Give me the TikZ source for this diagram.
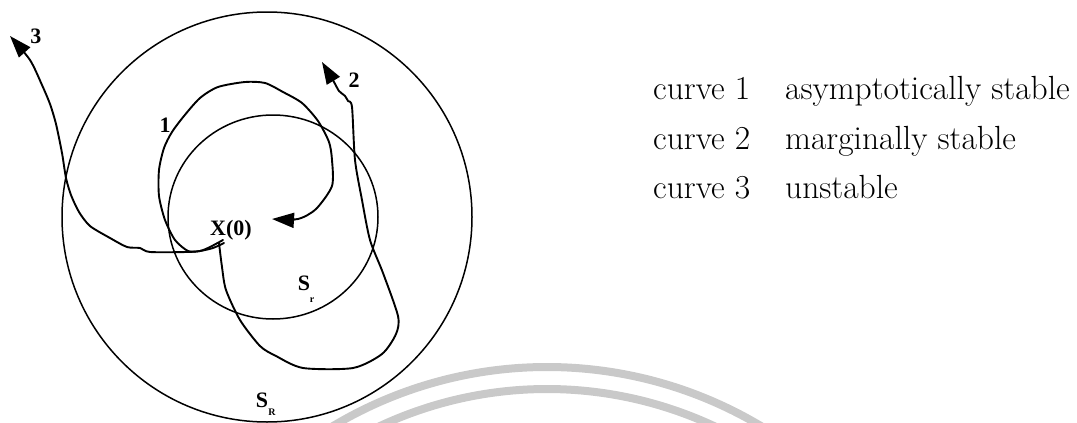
\documentclass[tikz,border=0pt]{standalone}
\usepackage{fontspec}
\newfontfamily\tnr{Liberation Serif}
\usetikzlibrary{arrows.meta}
\begin{document}
\begin{tikzpicture}[x=1pt,y=-1pt,
  traj/.style={line width=1.9pt, line join=round, line cap=round, -{Triangle[length=22pt,width=15pt]}},
  ring/.style={line width=1.5pt},
  lbl/.style={font=\tnr\bfseries\fontsize{22}{22}\selectfont, inner sep=0pt},
  sublbl/.style={font=\tnr\bfseries\fontsize{10}{10}\selectfont, inner sep=0pt},
  leg/.style={font=\fontsize{33.5}{40}\selectfont, anchor=base west, inner sep=0pt},
  wm/.style={line width=8pt, color=black!21}]
\useasboundingbox (0,0) rectangle (1077,423);
\clip (0,0) rectangle (1077,423);
% watermark arcs
\draw[wm] (547,784) ++(-123:417) arc[start angle=-123, end angle=-57, radius=417];
\draw[wm] (547,784) ++(-117:395) arc[start angle=-117, end angle=-63, radius=395];
% regions
\draw[ring] (267,217) circle[radius=205];
\draw[ring] (273,217) ellipse[x radius=105, y radius=102];
% start and end points
\coordinate (x0) at (221,242);
\coordinate (e1) at (272,219);
\coordinate (e2) at (322,62);
\coordinate (e3) at (10,36);
% curve 1: asymptotically stable
\draw[traj] plot[smooth, tension=0.45] coordinates {(223,240) (210,247) (200,251) (188,251) (175,240) (165,220) (159,196) (159,170) (164,148) (172,132) (184,116) (200,98) (218,87) (245,82) (265,83) (283,92) (302,103) (318,121) (329,142) (332,160) (332,186) (316,209) (298,219) (e1)};
% curve 2: marginally stable
\draw[traj] plot[smooth, tension=0.45] coordinates {(219,243) (222,267) (226,290) (240,320) (260,346) (276,356) (303,368) (353,368) (382,354) (396,334) (398,316) (383,273) (370,240) (362,200) (355,160) (352,107) (348,101) (345,96) (339,91) (334,82) (e2)};
% curve 3: unstable
\draw[traj] plot[smooth, tension=0.45] coordinates {(224,243) (213,248) (200,251) (187,252) (150,252) (140,248) (127,247) (110,238) (90,226) (79,212) (71,195) (66,178) (62,153) (56,124) (50,104) (42,85) (30,60) (e3)};
% labels
\node[lbl] (l1) at (165,125) {1};
\node[lbl] (l2) at (354,80) {2};
\node[lbl] (l3) at (36,36) {3};
\node[lbl] (lx) at (231,230) {X(0)};
\node[lbl] (lsr) at (304,283) {S};
\node[sublbl] (lsrs) at (312,300) {r};
\node[lbl] (lsR) at (262,400) {S};
\node[sublbl] (lsRs) at (272,412) {R};
% legend
\node[leg] (c1) at (653,99) {curve 1};
\node[leg] (d1) at (785,99) {asymptotically stable};
\node[leg] (c2) at (653,149) {curve 2};
\node[leg] (d2) at (785,149) {marginally stable};
\node[leg] (c3) at (653,198) {curve 3};
\node[leg] (d3) at (785,198) {unstable};
\end{tikzpicture}
\end{document}
